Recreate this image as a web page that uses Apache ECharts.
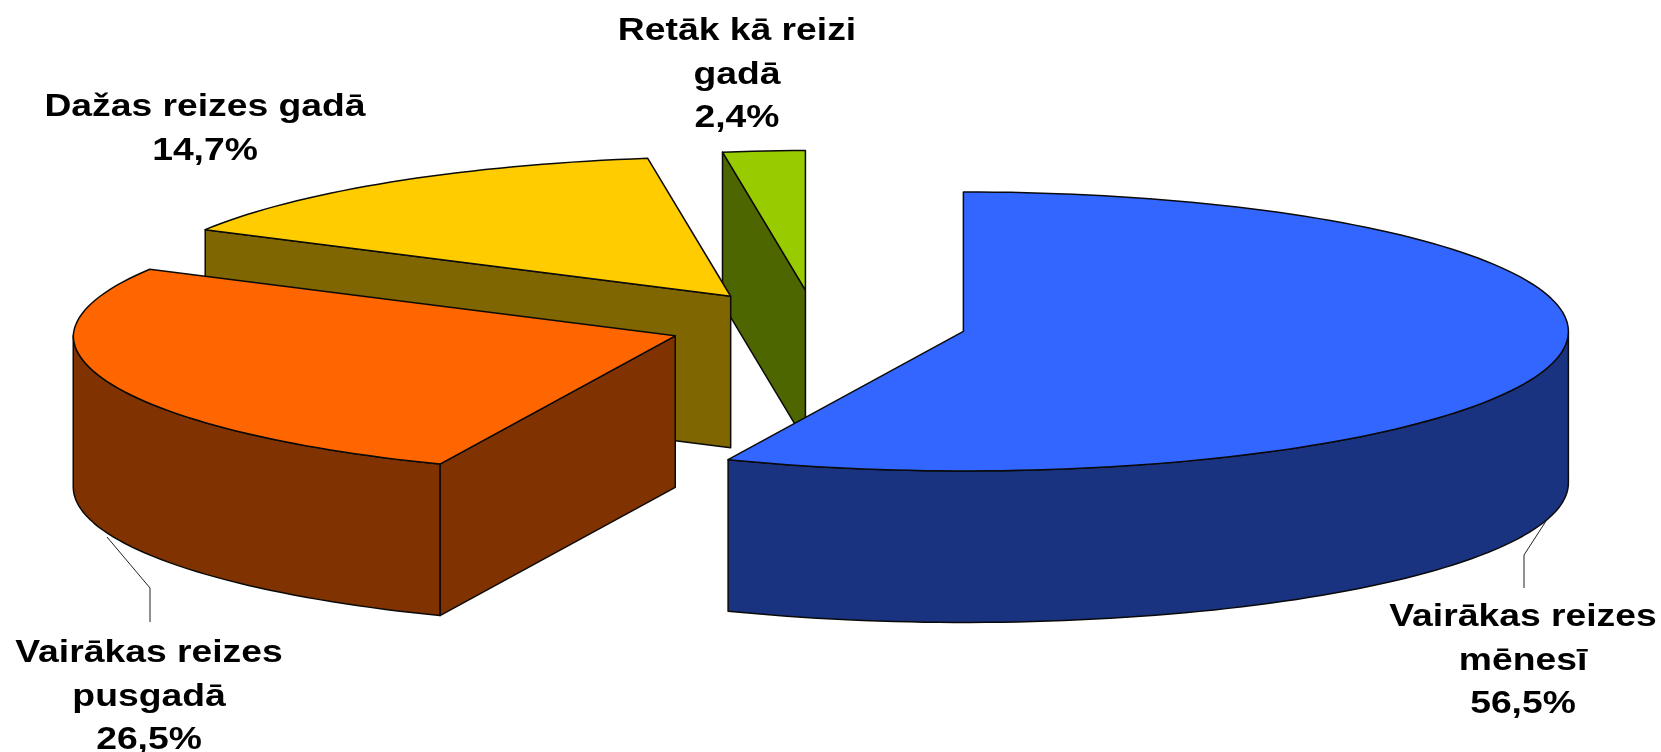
<!DOCTYPE html>
<html>
<head>
<meta charset="utf-8">
<style>html,body{margin:0;padding:0;background:#fff}#c{width:1661px;height:752px}</style>
<script src="https://cdn.jsdelivr.net/npm/echarts@6/dist/echarts.min.js"></script>
</head>
<body>
<div id="c"></div>
<script>
const categories = ['Vairākas reizes\nmēnesī', 'Vairākas reizes\npusgadā', 'Dažas reizes gadā', 'Retāk kā reizi\ngadā'];
const values = [56.5, 26.5, 14.7, 2.4];
const topColors = ['#3366FF', '#FF6600', '#FFCC00', '#99CC00'];
const sideColors = ['#1A3380', '#803300', '#806600', '#4D6600'];
const labelCenters = [[1523, 661], [149, 697], [205, 129], [737, 75]];
const leaderPaths = [[[1548, 518], [1524, 555], [1524, 588]], [[107, 537], [150, 588], [150, 622]], null, null];

const PIE = { cx: 816.7, cy: 324.5, rx: 605, rxLeft: 602, insetBack: 7.5, insetFront: 2, ry: 139.5, depth: 151.5, explode: 0.2475 };
const total = values.reduce((a, b) => a + b, 0);
const RAD = Math.PI / 180;

function point(c, t) {
  const s = Math.sin(t * RAD), co = Math.cos(t * RAD);
  // Slight perspective of the original on the left half of the pie.
  const inset = (co > 0 ? PIE.insetBack : PIE.insetFront) * Math.abs(co) * Math.min(1, -s / 0.1);
  const dx = s < 0 ? PIE.rxLeft * s + inset : PIE.rx * s;
  return [c[0] + dx, c[1] - PIE.ry * co];
}
function arc(c, a, b) {
  const n = Math.max(2, Math.ceil(Math.abs(b - a) / 1.5)), pts = [];
  for (let i = 0; i <= n; i++) pts.push(point(c, a + (b - a) * i / n));
  return pts;
}
const drop = p => [p[0], p[1] + PIE.depth];
// A radial wall can be seen only when its outward normal points towards the viewer (down the screen).
const facesViewer = normalAngle => Math.cos(normalAngle * RAD) < -1e-6;

const starts = [];
values.reduce((acc, v, i) => { starts[i] = acc; return acc + v; }, 0);

function renderItem(params, api) {
  const i = api.value(0), v = api.value(1);
  const a = starts[i] / total * 360, b = (starts[i] + v) / total * 360, m = (a + b) / 2;
  const k = PIE.explode;
  const c = [PIE.cx + PIE.rx * k * Math.sin(m * RAD), PIE.cy - PIE.ry * k * Math.cos(m * RAD)];
  const base = 10 * (values.length - i);
  const shapeStyle = fill => ({ fill, stroke: '#0a0a0a', lineWidth: 1.5, lineJoin: 'round' });
  const poly = (points, fill, z2) => ({ type: 'polygon', shape: { points }, style: shapeStyle(fill), z2 });
  const children = [];
  [[a, a - 90], [b, b + 90]].forEach(([t, normal]) => {
    if (!facesViewer(normal)) return;
    const e = point(c, t);
    children.push(poly([c, e, drop(e), drop(c)], sideColors[i], base));
  });
  const fa = Math.max(a, 90), fb = Math.min(b, 270);
  if (fb > fa) {
    const front = arc(c, fa, fb);
    children.push(poly(front.concat(front.slice().reverse().map(drop)), sideColors[i], base + 1));
  }
  children.push(poly([c].concat(arc(c, a, b)), topColors[i], base + 2));
  if (leaderPaths[i]) {
    children.push({ type: 'polyline', shape: { points: leaderPaths[i] }, style: { fill: null, stroke: '#222', lineWidth: 1 }, z2: 100 });
  }
  const lc = labelCenters[i];
  children.push({
    type: 'text', x: lc[0], y: lc[1], scaleX: 1.165, z2: 101,
    style: {
      text: categories[i] + '\n' + v.toFixed(1).replace('.', ',') + '%',
      font: 'bold 32px "Liberation Sans", Arial, sans-serif',
      fill: '#000', align: 'center', verticalAlign: 'middle', lineHeight: 43.5
    }
  });
  return { type: 'group', children };
}

const chart = echarts.init(document.getElementById('c'), null, { renderer: 'canvas' });
chart.setOption({
  animation: false,
  backgroundColor: '#fff',
  series: [{
    type: 'custom',
    coordinateSystem: 'none',
    renderItem,
    data: values.map((v, i) => [i, v])
  }]
});
</script>
</body>
</html>
